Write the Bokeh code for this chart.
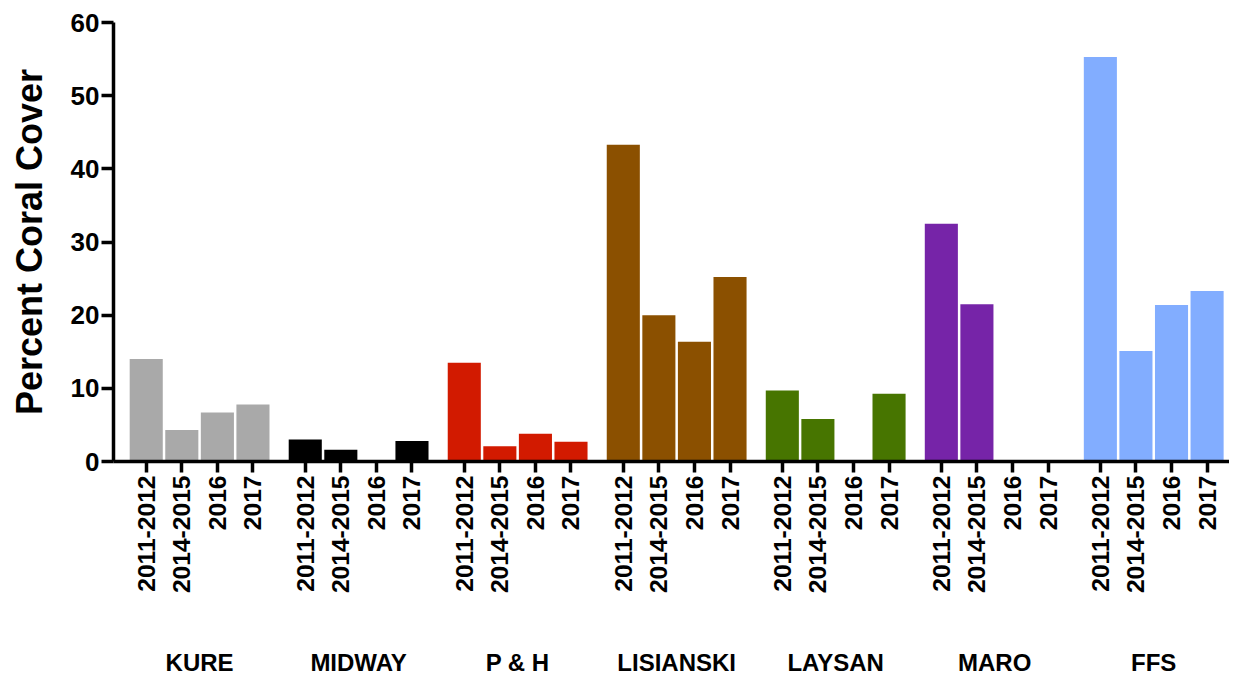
import math
from bokeh.plotting import figure
from bokeh.models import (FixedTicker, LinearAxis, CustomJSTickFormatter, Range1d,
                          ColumnDataSource)
from bokeh.embed import file_html
from bokeh.resources import INLINE

# ---- data ----
sites = ["KURE", "MIDWAY", "P & H", "LISIANSKI", "LAYSAN", "MARO", "FFS"]
periods = ["2011-2012", "2014-2015", "2016", "2017"]
kure = [14.0, 4.3, 6.7, 7.8]
midway = [3.0, 1.6, 0.0, 2.8]
p_and_h = [13.5, 2.1, 3.8, 2.7]
lisianski = [43.3, 20.0, 16.35, 25.2]
laysan = [9.7, 5.8, 0.0, 9.25]
maro = [32.5, 21.5, 0.0, 0.0]
ffs = [55.3, 15.1, 21.4, 23.3]
y_ticks = [0, 10, 20, 30, 40, 50, 60]
site_colors = ["#a9a9a9", "#000000", "#d21a00", "#8b5000", "#477500", "#7624a8", "#82adff"]

series = [kure, midway, p_and_h, lisianski, laysan, maro, ffs]

# ---- layout of categorical positions ----
GROUP_STEP = 4.47
xs, tops, cols, labels = [], [], [], []
group_centers = []
for g, (vals, col) in enumerate(zip(series, site_colors)):
    base = g * GROUP_STEP
    group_centers.append(base + (len(periods) - 1) / 2)
    for i, v in enumerate(vals):
        xs.append(base + i)
        tops.append(v)
        cols.append(col)
        labels.append(periods[i])

src = ColumnDataSource(dict(x=xs, top=tops, color=cols))

FONT = "Liberation Sans"

p = figure(frame_width=1116, frame_height=439,
           x_range=Range1d(-0.92, 30.45), y_range=Range1d(0, 60),
           output_backend="svg", toolbar_location=None,
           min_border_left=113, min_border_top=22, min_border_right=0,
           min_border_bottom=0)
p.outline_line_color = None
p.grid.grid_line_color = None
p.background_fill_color = "white"
p.border_fill_color = "white"

p.vbar(x="x", top="top", bottom=0, width=0.93, fill_color="color",
       line_color=None, source=src)

# y axis
ya = p.yaxis[0]
ya.ticker = FixedTicker(ticks=y_ticks)
ya.axis_line_width = 3.5
ya.major_tick_line_width = 3.5
ya.major_tick_out = 12
ya.major_tick_in = 0
ya.minor_tick_line_color = None
ya.major_label_standoff = 2
ya.major_label_text_font = FONT
ya.major_label_text_font_style = "bold"
ya.major_label_text_font_size = "26px"
ya.major_label_text_color = "black"
ya.axis_label = "Percent Coral Cover"
ya.axis_label_text_font = FONT
ya.axis_label_text_font_style = "bold"
ya.axis_label_text_font_size = "36px"
ya.axis_label_text_color = "black"
ya.axis_label_standoff = 18

# x axis with period labels
xa = p.xaxis[0]
xa.ticker = FixedTicker(ticks=xs)
xa.formatter = CustomJSTickFormatter(args=dict(labels=labels), code="return labels[index];")
xa.axis_line_width = 3.5
xa.major_tick_line_width = 3.5
xa.major_tick_out = 11
xa.major_tick_in = 0
xa.minor_tick_line_color = None
xa.major_label_orientation = math.pi / 2
xa.major_label_standoff = 3
xa.major_label_text_font = FONT
xa.major_label_text_font_style = "bold"
xa.major_label_text_font_size = "24.6px"
xa.major_label_text_color = "black"

# second axis with site names
ga = LinearAxis(ticker=FixedTicker(ticks=group_centers),
                formatter=CustomJSTickFormatter(args=dict(labels=sites),
                                                code="return labels[index];"))
ga.axis_line_color = None
ga.major_tick_line_color = None
ga.minor_tick_line_color = None
ga.major_label_standoff = 46
ga.major_label_text_font = FONT
ga.major_label_text_font_style = "bold"
ga.major_label_text_font_size = "24px"
ga.major_label_text_color = "black"
p.add_layout(ga, "below")

open("out.html", "w").write(file_html(p, INLINE))
